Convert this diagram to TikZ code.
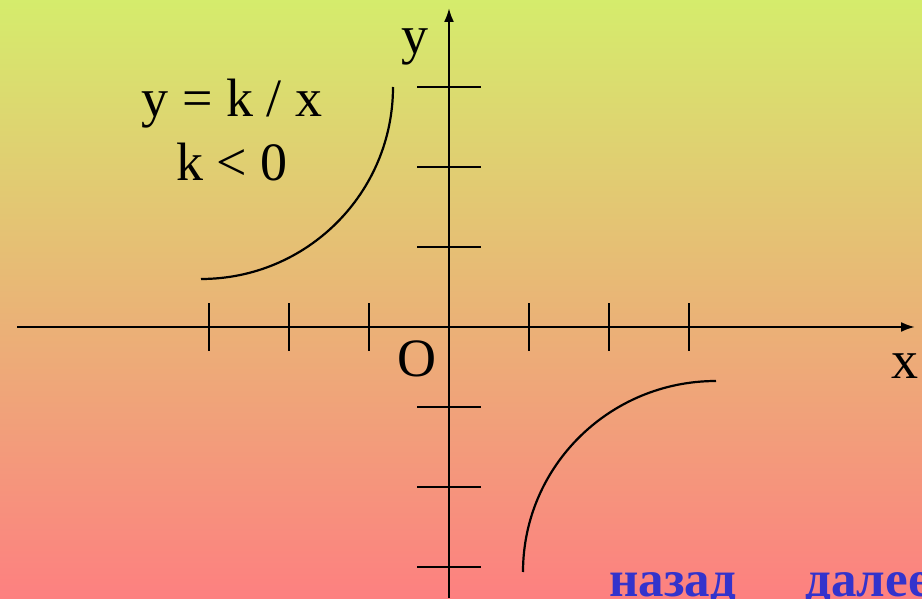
\documentclass[tikz,border=0pt]{standalone}
\usepackage{fontspec}
\setmainfont{Liberation Serif}
\usepackage{xcolor}
\usepackage{tikz}
\usetikzlibrary{arrows.meta, positioning, calc}

\definecolor{bgtop}{RGB}{213,236,108}
\definecolor{bgbot}{RGB}{253,128,128}
\definecolor{navblue}{RGB}{51,51,204}

\begin{document}
\begin{tikzpicture}[
    x=1pt, y=1pt,
    axis/.style={line width=2.3pt, ->, >={Latex[length=14pt,width=10pt]}},
    tick/.style={line width=2.3pt},
    curve/.style={line width=2.2pt},
    lbl/.style={inner sep=0pt, anchor=base, font=\fontsize{54}{60}\selectfont},
    nav/.style={inner sep=0pt, anchor=base west, text=navblue, font=\fontsize{51}{56}\selectfont\bfseries}
]
% background
\shade[top color=bgtop, bottom color=bgbot] (0,0) rectangle (922,598);
\useasboundingbox (0,0) rectangle (922,598);

% axes
\coordinate (xl) at (17,271);
\coordinate (xr) at (915,271);
\coordinate (yb) at (449,0);
\coordinate (yt) at (449,590);
\coordinate (o) at (449,271);
\draw [axis] (xl) -- (xr);
\draw [axis] (yb) -- (yt);

% ticks
\foreach \i in {-3,-2,-1,1,2,3} {
  \draw [tick] ($(o)+(80*\i,-24)$) -- ($(o)+(80*\i,24)$);
  \draw [tick] ($(o)+(-32,80*\i)$) -- ($(o)+(32,80*\i)$);
}

% branches of the hyperbola
\draw [curve] (201,319) arc[start angle=270, end angle=360, radius=192];
\draw [curve] (716,217) arc[start angle=90, end angle=180, x radius=193, y radius=191];

% labels
\node (ylab) [lbl] at (415,544) {y};
\node (xlab) [lbl] at (905,219) {x};
\node (olab) [lbl] at (417,221) {O};
\node (eq) [lbl] at (232,481) {y = k / x};
\node (cond) [lbl] at (232,417) {k < 0};

% navigation
\node (back) [nav] at (609,2) {назад};
\node (next) [nav] at (805,2) {далее};
\end{tikzpicture}
\end{document}
